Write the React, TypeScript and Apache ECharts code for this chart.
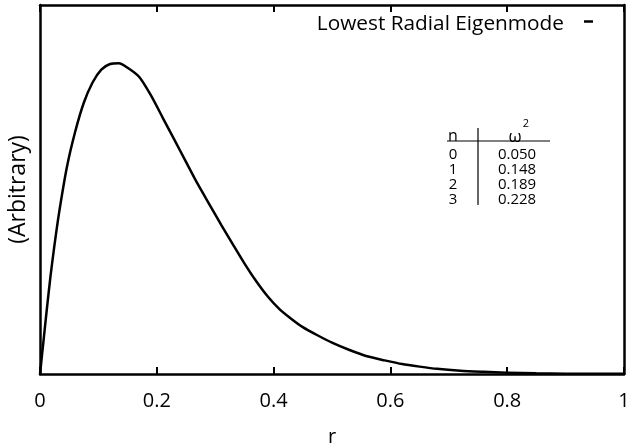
import React, { useEffect, useRef } from "react";
import * as echarts from "echarts";

const rValues = [0, 0.006, 0.012, 0.018, 0.024, 0.032, 0.046, 0.06, 0.075, 0.09, 0.105, 0.12, 0.135, 0.15, 0.17, 0.19, 0.21, 0.23, 0.25, 0.27, 0.29, 0.31, 0.33, 0.35, 0.37, 0.39, 0.41, 0.43, 0.45, 0.475, 0.5, 0.53, 0.56, 0.59, 0.62, 0.65, 0.68, 0.72, 0.76, 0.8, 0.85, 0.9, 0.95, 1.0];
const modeValues = [0, 0.09, 0.18, 0.265, 0.34, 0.43, 0.56, 0.655, 0.735, 0.79, 0.825, 0.84, 0.842, 0.83, 0.805, 0.755, 0.695, 0.635, 0.575, 0.515, 0.46, 0.405, 0.352, 0.3, 0.252, 0.21, 0.176, 0.15, 0.127, 0.105, 0.085, 0.065, 0.048, 0.037, 0.027, 0.02, 0.014, 0.009, 0.006, 0.0035, 0.002, 0.001, 0.0007, 0.0005];
const xTicks = [0, 0.2, 0.4, 0.6, 0.8, 1];
const tableN = ["0", "1", "2", "3"];
const tableOmega2 = ["0.050", "0.148", "0.189", "0.228"];
const seriesName = "Lowest Radial Eigenmode";

const FONT = "'Open Sans', 'Noto Sans', sans-serif";

export default function App() {
  const ref = useRef<HTMLDivElement>(null);
  useEffect(() => {
    if (!ref.current) return;
    const chart = echarts.init(ref.current, null, { renderer: "svg" });
    const tableX = 478;
    const headY = 135;
    const rowY0 = 153;
    const rowStep = 15;
    const graphic: any[] = [
      { type: "text", x: 453, y: headY, style: { text: "n", font: `16px ${FONT}`, fill: "#000", align: "center", verticalAlign: "middle" } },
      { type: "text", x: 515, y: headY, style: { text: "ω", font: `17px ${FONT}`, fill: "#000", align: "center", verticalAlign: "middle" } },
      { type: "text", x: 526, y: 122, style: { text: "2", font: `11px ${FONT}`, fill: "#000", align: "center", verticalAlign: "middle" } },
      { type: "line", shape: { x1: 447, y1: 141, x2: 550, y2: 141 }, style: { stroke: "#000", lineWidth: 1.2 } },
      { type: "line", shape: { x1: tableX, y1: 128, x2: tableX, y2: 205 }, style: { stroke: "#000", lineWidth: 1.2 } },
    ];
    tableN.forEach((n, i) => {
      graphic.push({ type: "text", x: 453, y: rowY0 + i * rowStep, style: { text: n, font: `15px ${FONT}`, fill: "#000", align: "center", verticalAlign: "middle" } });
      graphic.push({ type: "text", x: 517, y: rowY0 + i * rowStep, style: { text: tableOmega2[i], font: `15px ${FONT}`, fill: "#000", align: "center", verticalAlign: "middle" } });
    });

    const axisLine = { show: true, onZero: false, lineStyle: { color: "#000", width: 2.5 } };
    chart.setOption({
      animation: false,
      grid: { left: 40, right: 5, top: 5, bottom: 74, show: false, outerBoundsMode: "none", containLabel: false },
      legend: {
        data: [{ name: seriesName, icon: "rect" }],
        right: 31,
        top: 6,
        align: "right",
        itemWidth: 9,
        itemHeight: 2.5,
        textStyle: { fontFamily: FONT, fontSize: 20.8, color: "#000", padding: [0, 15, 0, 0] },
      },
      xAxis: [
        {
          type: "value",
          min: 0,
          max: 1,
          interval: 0.2,
          position: "bottom",
          axisLine,
          axisTick: { show: true, inside: true, length: 7, lineStyle: { color: "#000", width: 2 } },
          axisLabel: {
            fontFamily: FONT,
            fontSize: 20,
            color: "#000",
            margin: 15,
            formatter: (v: number) => (xTicks.includes(Math.round(v * 10) / 10) ? String(Math.round(v * 10) / 10) : ""),
          },
          splitLine: { show: false },
          name: "r",
          nameLocation: "middle",
          nameGap: 51,
          nameTextStyle: { fontFamily: FONT, fontSize: 20, color: "#000" },
        },
        {
          type: "value",
          min: 0,
          max: 1,
          interval: 0.2,
          position: "top",
          axisLine,
          axisTick: { show: true, inside: true, length: 7, lineStyle: { color: "#000", width: 2 } },
          axisLabel: { show: false },
          splitLine: { show: false },
        },
      ],
      yAxis: [
        {
          type: "value",
          min: 0,
          max: 1,
          position: "left",
          axisLine,
          axisTick: { show: false },
          axisLabel: { show: false },
          splitLine: { show: false },
          name: "(Arbitrary)",
          nameLocation: "middle",
          nameGap: 13,
          nameRotate: 90,
          nameTextStyle: { fontFamily: FONT, fontSize: 23, color: "#000" },
        },
        {
          type: "value",
          min: 0,
          max: 1,
          position: "right",
          axisLine,
          axisTick: { show: false },
          axisLabel: { show: false },
          splitLine: { show: false },
        },
      ],
      series: [
        {
          name: seriesName,
          type: "line",
          xAxisIndex: 0,
          yAxisIndex: 0,
          data: rValues.map((r, i) => [r, modeValues[i]]),
          showSymbol: false,
          symbol: "none",
          smooth: 0.25,
          lineStyle: { color: "#000", width: 2.5 },
          itemStyle: { color: "#000" },
        },
      ],
      graphic,
    });
    return () => chart.dispose();
  }, []);
  return <div ref={ref} style={{ position: "fixed", left: 0, top: 0, width: 629, height: 448 }} />;
}
